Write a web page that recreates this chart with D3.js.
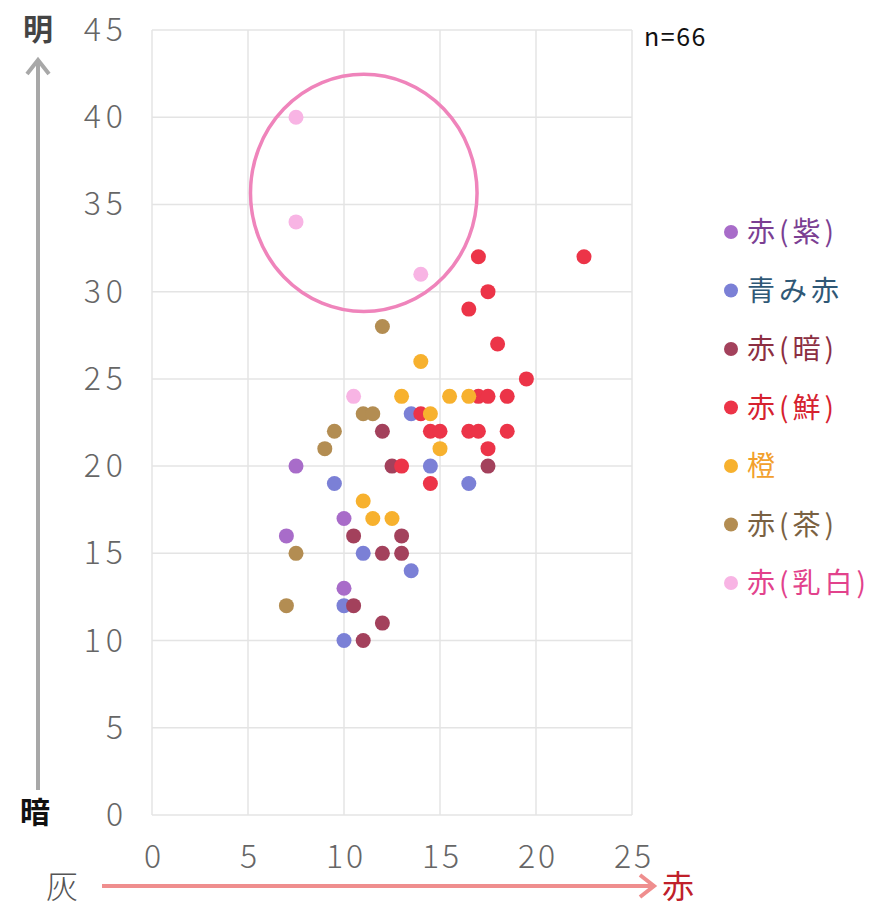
<!DOCTYPE html>
<html><head><meta charset="utf-8">
<script src="https://cdn.jsdelivr.net/npm/d3@7"></script>
<style>body{margin:0;background:#fff;} svg{display:block;}</style>
</head><body>
<svg id="c" width="879" height="908"></svg>
<script>
const seriesNames = ["赤(紫)","青み赤","赤(暗)","赤(鮮)","橙","赤(茶)","赤(乳白)"];
const seriesColors = ["#a86cc9","#7b80d6","#a3415c","#ec3448","#f7b12e","#b38d52","#f8b4e4"];
const labelColors = ["#7b3f93","#2f5876","#8c2f42","#d6222f","#f2a02c","#7a6142","#e2428c"];
const purple = [[7.5,20],[10,17],[7,16],[10,13]];
const blueRed = [[13.5,23],[14.5,20],[16.5,19],[9.5,19],[11,15],[13.5,14],[10,12],[10,10]];
const darkRed = [[12,22],[12.5,20],[17.5,20],[10.5,16],[13,16],[12,15],[13,15],[10.5,12],[12,11],[11,10]];
const vivid = [[17,32],[22.5,32],[17.5,30],[16.5,29],[18,27],[19.5,25],[17,24],[17.5,24],[18.5,24],[14,23],[14.5,22],[15,22],[16.5,22],[17,22],[18.5,22],[17.5,21],[13,20],[14.5,19]];
const orange = [[14,26],[13,24],[15.5,24],[16.5,24],[14.5,23],[15,21],[11,18],[11.5,17],[12.5,17]];
const brown = [[12,28],[11,23],[11.5,23],[9.5,22],[9,21],[7.5,15],[7,12]];
const milky = [[7.5,40],[7.5,34],[14,31],[10.5,24]];
const seriesData = [purple, blueRed, darkRed, vivid, orange, brown, milky];
const xTicks = [0,5,10,15,20,25];
const yTicks = [0,5,10,15,20,25,30,35,40,45];
const highlight = {cx:11.03, cy:35.66, rx:5.9, ry:6.8};

const svg = d3.select("#c");
const x = d3.scaleLinear().domain([0,25]).range([152,632]);
const y = d3.scaleLinear().domain([0,45]).range([815,30]);
const font = "'Noto Sans CJK JP','Noto Sans',sans-serif";

// grid
svg.append("g").selectAll("line").data(xTicks).join("line")
  .attr("x1",d=>x(d)).attr("x2",d=>x(d)).attr("y1",y(0)).attr("y2",y(45))
  .attr("stroke","#e4e4e4").attr("stroke-width",1.5);
svg.append("g").selectAll("line").data(yTicks).join("line")
  .attr("x1",x(0)).attr("x2",x(25)).attr("y1",d=>y(d)).attr("y2",d=>y(d))
  .attr("stroke","#e4e4e4").attr("stroke-width",1.5);

// tick labels
svg.append("g").selectAll("text").data(xTicks).join("text")
  .attr("x",d=>x(d)+2).attr("y",868).attr("text-anchor","middle")
  .attr("font-family",font).attr("font-weight",300).attr("font-size",32)
  .attr("letter-spacing",3).attr("fill","#666")
  .text(d=>d);
svg.append("g").selectAll("text").data(yTicks).join("text")
  .attr("x",128).attr("y",d=>y(d)+11).attr("text-anchor","end")
  .attr("font-family",font).attr("font-weight",300).attr("font-size",32)
  .attr("letter-spacing",5).attr("fill","#666")
  .text(d=>d);

// points
seriesData.forEach((arr,i)=>{
  svg.append("g").selectAll("circle").data(arr).join("circle")
    .attr("cx",d=>x(d[0])).attr("cy",d=>y(d[1])).attr("r",7.5)
    .attr("fill",seriesColors[i]);
});

// highlight ellipse
svg.append("ellipse")
  .attr("cx",x(highlight.cx)).attr("cy",y(highlight.cy))
  .attr("rx",x(highlight.rx)-x(0)).attr("ry",y(0)-y(highlight.ry))
  .attr("fill","none").attr("stroke","#ef84bb").attr("stroke-width",3.5);

// legend
const lg = svg.append("g");
seriesNames.forEach((n,i)=>{
  const ly = 232 + i*58.5;
  lg.append("circle").attr("cx",731).attr("cy",ly).attr("r",7).attr("fill",seriesColors[i]);
  lg.append("text").attr("x",747).attr("y",ly+10).attr("font-family",font).attr("font-size",28)
    .attr("letter-spacing",4).attr("fill",labelColors[i]).text(n);
});

// n label
svg.append("text").attr("x",644).attr("y",46).attr("font-family",font).attr("font-size",25)
  .attr("letter-spacing",1.5).attr("fill","#111").text("n=66");

// y arrow
svg.append("line").attr("x1",38).attr("x2",38).attr("y1",790).attr("y2",62)
  .attr("stroke","#a8a8a8").attr("stroke-width",4);
svg.append("path").attr("d","M27,74 L38,60 L49,74").attr("fill","none")
  .attr("stroke","#a8a8a8").attr("stroke-width",4);
svg.append("text").attr("x",38).attr("y",40).attr("text-anchor","middle")
  .attr("font-family",font).attr("font-weight",700).attr("font-size",30).attr("fill","#444").text("明");
svg.append("text").attr("x",35).attr("y",823).attr("text-anchor","middle")
  .attr("font-family",font).attr("font-weight",700).attr("font-size",30).attr("fill","#111").text("暗");

// x arrow
svg.append("line").attr("x1",102).attr("x2",652).attr("y1",886).attr("y2",886)
  .attr("stroke","#ef8e8e").attr("stroke-width",4);
svg.append("path").attr("d","M640,875 L654,886 L640,897").attr("fill","none")
  .attr("stroke","#ef8e8e").attr("stroke-width",4);
svg.append("text").attr("x",62).attr("y",898).attr("text-anchor","middle")
  .attr("font-family",font).attr("font-weight",300).attr("font-size",32).attr("fill","#555").text("灰");
svg.append("text").attr("x",678).attr("y",898).attr("text-anchor","middle")
  .attr("font-family",font).attr("font-size",32).attr("fill","#c0202a").text("赤");
</script>
</body></html>
